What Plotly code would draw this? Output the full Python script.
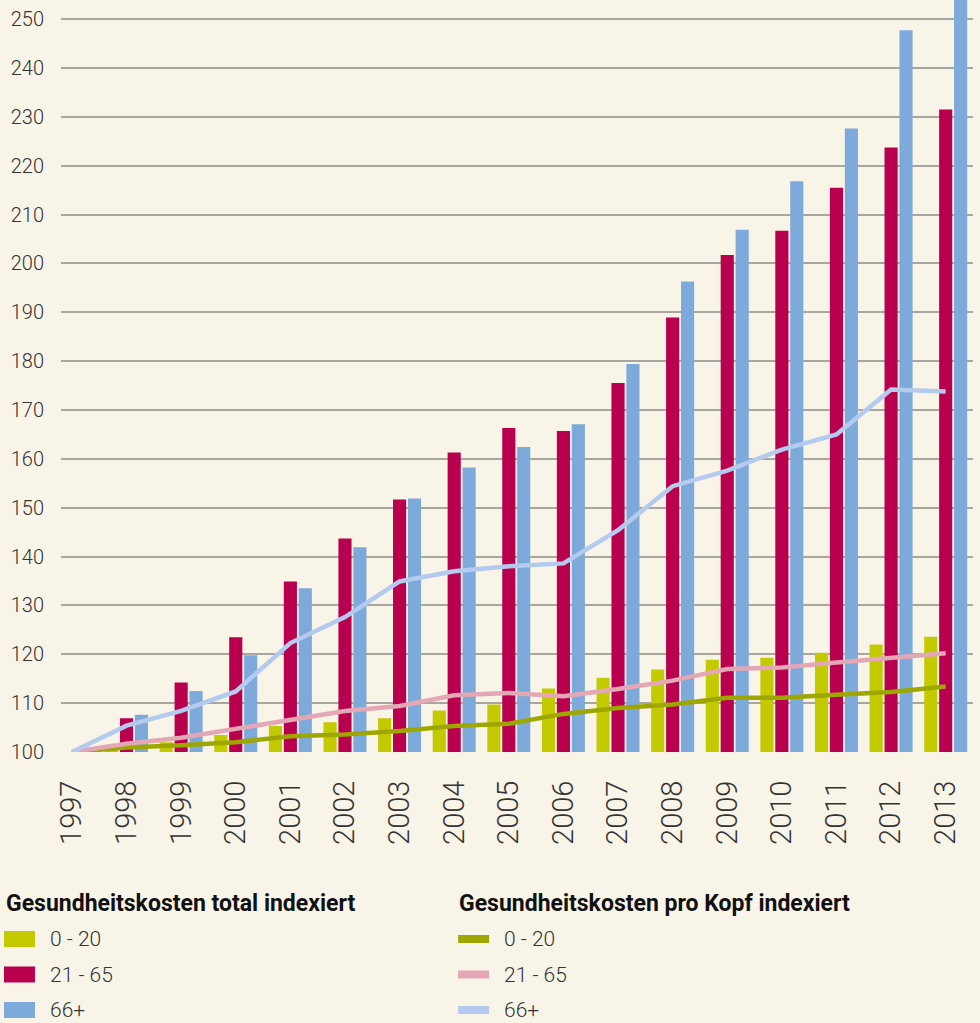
import plotly.graph_objects as go

# years and indexed values (1997 = 100)
years = [str(y) for y in range(1997, 2014)]

total_0_20 = [100, 101.5, 102.0, 103.5, 105.3, 106.1, 106.9, 108.5, 109.7, 113.0,
              115.2, 116.9, 118.9, 119.3, 120.3, 122.0, 123.6]
total_21_65 = [100, 106.9, 114.2, 123.5, 134.9, 143.7, 151.7, 161.3, 166.3, 165.7,
               175.5, 188.9, 201.7, 206.7, 215.5, 223.7, 231.5]
total_66 = [100, 107.6, 112.5, 119.8, 133.5, 141.9, 151.9, 158.2, 162.4, 167.1,
            179.4, 196.3, 206.9, 216.8, 227.6, 247.7, 256.0]

kopf_0_20 = [100, 100.9, 101.4, 102.0, 103.2, 103.6, 104.3, 105.3, 105.8, 107.8,
             109.0, 109.7, 111.1, 111.1, 111.7, 112.3, 113.4]
kopf_21_65 = [100, 101.7, 102.9, 104.8, 106.6, 108.4, 109.4, 111.6, 112.1, 111.4,
              112.9, 114.6, 117.0, 117.3, 118.3, 119.3, 120.2]
kopf_66 = [100, 105.4, 108.4, 112.4, 122.3, 127.6, 134.9, 137.0, 138.0, 138.6,
           145.4, 154.4, 157.6, 161.9, 165.0, 174.2, 173.8]

groups = ["0 - 20", "21 - 65", "66+"]
bar_colours = ["#c3ca00", "#b9004e", "#7eaadb"]
line_colours = ["#9ea600", "#e3a7b5", "#b4caee"]
legend_titles = ["Gesundheitskosten total indexiert", "Gesundheitskosten pro Kopf indexiert"]

BG = "#f8f4e8"
FONT = "Roboto"
W, H = 980, 1023
PLOT_TOP, PLOT_BOTTOM = 0, 752
PLOT_LEFT, PLOT_RIGHT = 61, 972.7

fig = go.Figure()

for name, vals, col in zip(groups, [total_0_20, total_21_65, total_66], bar_colours):
    fig.add_trace(go.Bar(x=years, y=vals, name=name, marker_color=col,
                         marker_line_width=0, showlegend=False))

for name, vals, col in zip(groups, [kopf_0_20, kopf_21_65, kopf_66], line_colours):
    fig.add_trace(go.Scatter(x=years, y=vals, name=name, mode="lines",
                             line=dict(color=col, width=4.5), showlegend=False))


def py(pix):
    # pixel row -> paper y
    return (PLOT_BOTTOM - pix) / (PLOT_BOTTOM - PLOT_TOP)


def px(pix):
    # pixel column -> paper x
    return (pix - PLOT_LEFT) / (PLOT_RIGHT - PLOT_LEFT)


# custom legend built from shapes and annotations
shapes = []
annotations = []
cols_x = [4, 457]
row_y = [939, 974.5, 1010]
for c, title in enumerate(legend_titles):
    annotations.append(dict(x=px(cols_x[c]), y=py(903), xref="paper", yref="paper",
                            text=f"<b>{title}</b>", showarrow=False, xanchor="left",
                            yanchor="middle", font=dict(family=FONT, size=23, color="#111111")))
    for r, name in enumerate(groups):
        if c == 0:
            shapes.append(dict(type="rect", xref="paper", yref="paper",
                               x0=px(4), x1=px(35), y0=py(row_y[r] + 8), y1=py(row_y[r] - 8),
                               fillcolor=bar_colours[r], line_width=0))
            tx = 48
        else:
            shapes.append(dict(type="rect", xref="paper", yref="paper",
                               x0=px(458), x1=px(489), y0=py(row_y[r] + 4), y1=py(row_y[r] - 4),
                               fillcolor=line_colours[r], line_width=0))
            tx = 502
        annotations.append(dict(x=px(tx), y=py(row_y[r]), xref="paper", yref="paper",
                                text=name, showarrow=False, xanchor="left", yanchor="middle",
                                font=dict(family=FONT, size=21, color="#333333", weight=300)))

fig.update_layout(
    width=W, height=H,
    margin=dict(l=PLOT_LEFT, r=W - PLOT_RIGHT, t=PLOT_TOP, b=H - PLOT_BOTTOM, pad=0),
    paper_bgcolor=BG, plot_bgcolor=BG,
    barmode="group", bargap=0.18, bargroupgap=0.12,
    font=dict(family=FONT, color="#333333"),
    xaxis=dict(range=[-0.2, 16.5], tickangle=-90, showgrid=False, showline=False,
               ticks="outside", ticklen=16, tickcolor="rgba(0,0,0,0)",
               tickfont=dict(family=FONT, size=29, color="#333333", weight=300)),
    yaxis=dict(range=[100, 253.9], dtick=10, showgrid=True, gridcolor="#a9a6a0",
               gridwidth=2, zeroline=False, showline=False, ticks="",
               ticklabelstandoff=16,
               tickfont=dict(family=FONT, size=20, color="#333333", weight=300)),
    shapes=shapes,
    annotations=annotations,
)

# drop the default page margin so the figure sits at the window's corner
fig.write_html("out.html", config={"displayModeBar": False},
               post_script="document.body.style.margin='0';")
